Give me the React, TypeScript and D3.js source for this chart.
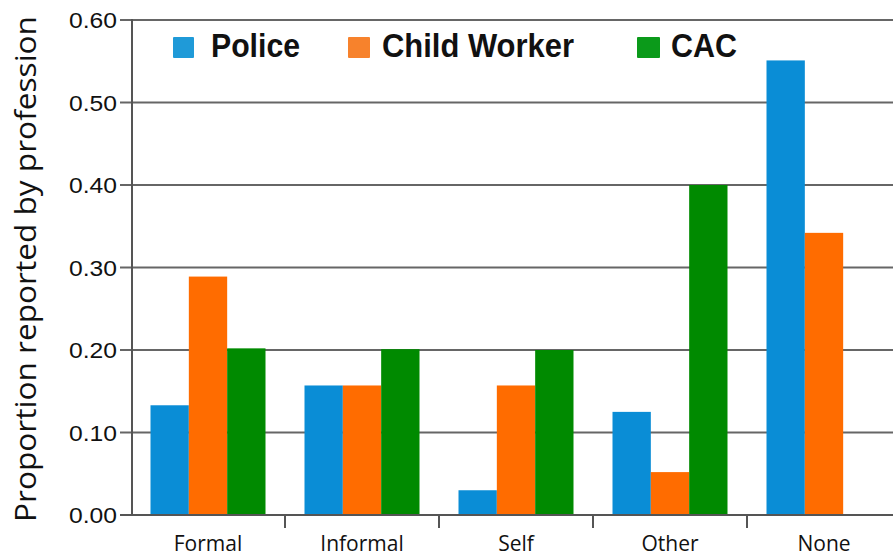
import React from "react";
import * as d3 from "d3";

const categories = ["Formal", "Informal", "Self", "Other", "None"];
const seriesNames = ["Police", "Child Worker", "CAC"];
const police = [0.133, 0.157, 0.03, 0.125, 0.551];
const childWorker = [0.289, 0.157, 0.157, 0.052, 0.342];
const cac = [0.202, 0.201, 0.2, 0.4, 0];
const yTicks = [0, 0.1, 0.2, 0.3, 0.4, 0.5, 0.6];
const barColors = ["#0a8dd6", "#ff6c00", "#008a00"];
const legendColors = ["#1f9ad8", "#f7822c", "#0b9a1a"];

const W = 893;
const H = 559;

export default function App() {
  const values = [police, childWorker, cac];
  const x0 = d3.scaleBand<string>().domain(categories).range([131, 901]).paddingInner(0).paddingOuter(0);
  const x1 = d3
    .scaleBand<string>()
    .domain(seriesNames)
    .range([19.5, x0.bandwidth() - 19.5])
    .paddingInner(0);
  const y = d3.scaleLinear().domain([0, 0.6]).range([515, 20]);

  const legendItems = [
    { name: "Police", sq: 173, tx: 211, tl: 89, size: 21 },
    { name: "Child Worker", sq: 348, tx: 382, tl: 192, size: 22 },
    { name: "CAC", sq: 637, tx: 671, tl: 66, size: 23 },
  ];

  return (
    <svg
      width={W}
      height={H}
      style={{ position: "absolute", left: 0, top: 0, background: "#fff" }}
    >
      <rect x={0} y={0} width={W} height={H} fill="#fff" />
      {yTicks.map((t) => (
        <g key={t}>
          <line x1={120} x2={W} y1={y(t)} y2={y(t)} stroke="#666" strokeWidth={2} />
          <text
            x={117}
            y={y(t) + 8}
            textAnchor="end"
            fontFamily="Liberation Sans, Arial, sans-serif"
            fontSize={22}
            fill="#111"
            textLength={48}
            lengthAdjust="spacingAndGlyphs"
          >
            {t.toFixed(2)}
          </text>
        </g>
      ))}
      {categories.map((c, ci) => (
        <g key={c} transform={`translate(${x0(c)},0)`}>
          {seriesNames.map((s, si) => {
            const v = values[si][ci];
            if (v <= 0) return null;
            return (
              <rect
                key={s}
                x={x1(s)}
                y={y(v)}
                width={x1.bandwidth()}
                height={y(0) - y(v)}
                fill={barColors[si]}
              />
            );
          })}
        </g>
      ))}
      <line x1={132} x2={132} y1={19} y2={516} stroke="#555" strokeWidth={2} />
      <line x1={120} x2={W} y1={515} y2={515} stroke="#555" strokeWidth={2} />
      {categories.map((c, ci) => (
        <g key={c}>
          {ci > 0 && (
            <line x1={x0(c)} x2={x0(c)} y1={515} y2={528} stroke="#555" strokeWidth={2} />
          )}
          <text
            x={(x0(c) as number) + x0.bandwidth() / 2}
            y={551}
            textAnchor="middle"
            fontFamily="Open Sans, sans-serif"
            fontSize={21}
            fill="#111"
          >
            {c}
          </text>
        </g>
      ))}
      <text
        transform="translate(36,269) rotate(-90)"
        textAnchor="middle"
        fontFamily="Open Sans, sans-serif"
        fontSize={29}
        fill="#111"
        textLength={506}
        lengthAdjust="spacingAndGlyphs"
      >
        Proportion reported by profession
      </text>
      {legendItems.map((l, i) => (
        <g key={l.name}>
          <rect x={l.sq} y={37} width={l.size} height={21} fill={legendColors[i]} rx={1} />
          <text
            x={l.tx}
            y={57}
            fontFamily="Liberation Sans Narrow, Arial Narrow, Liberation Sans, sans-serif"
            fontWeight="bold"
            fontSize={34}
            fill="#111"
            textLength={l.tl}
            lengthAdjust="spacingAndGlyphs"
          >
            {l.name}
          </text>
        </g>
      ))}
    </svg>
  );
}
